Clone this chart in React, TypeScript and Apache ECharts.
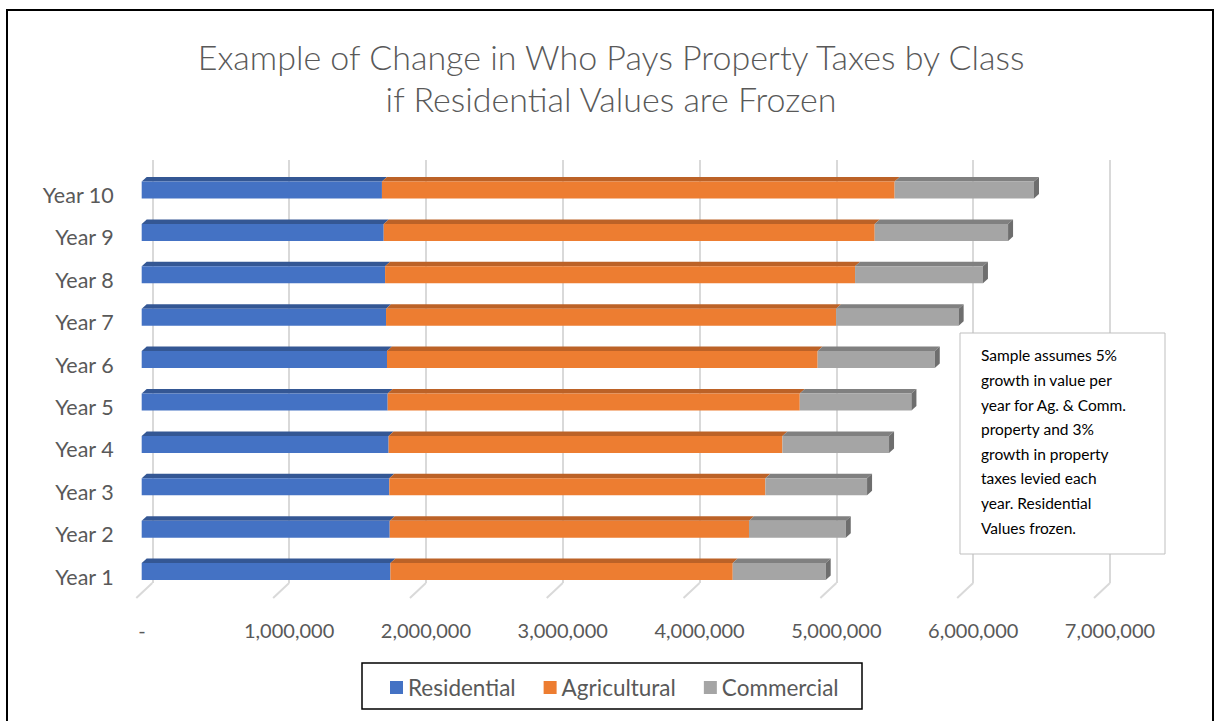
import React, { useEffect, useRef } from "react";
import * as echarts from "echarts";

const categories = ["Year 1", "Year 2", "Year 3", "Year 4", "Year 5", "Year 6", "Year 7", "Year 8", "Year 9", "Year 10"];
const residential = [1822000, 1817000, 1814000, 1809000, 1802000, 1797000, 1790000, 1783000, 1773000, 1760000];
const agricultural = [2508000, 2632000, 2755000, 2885000, 3019000, 3155000, 3297000, 3443000, 3597000, 3756000];
const commercial = [681000, 709000, 745000, 781000, 818000, 858000, 898000, 937000, 977000, 1021000];
const xTicks = [0, 1000000, 2000000, 3000000, 4000000, 5000000, 6000000, 7000000];
const seriesNames = ["Residential", "Agricultural", "Commercial"];
const titleText = "Example of Change in Who Pays Property Taxes by Class\nif Residential Values are Frozen";
const noteText =
  "Sample assumes 5%\ngrowth in value per\nyear for Ag. & Comm.\nproperty and 3%\ngrowth in property\ntaxes levied each\nyear. Residential\nValues frozen.";

const FONT = "Lato, 'Open Sans', sans-serif";

export default function App() {
  const ref = useRef<HTMLDivElement>(null);

  useEffect(() => {
    if (!ref.current) return;
    const chart = echarts.init(ref.current, undefined, { renderer: "svg" });

    const stacks = [residential, agricultural, commercial];
    const faces = [
      { front: "#4472C4", top: "#345794", side: "#2F4F88" },
      { front: "#ED7D31", top: "#BC6227", side: "#A85722" },
      { front: "#A5A5A5", top: "#808080", side: "#6E6E6E" },
    ];

    const barSeries = stacks.map((vals, si) => {
      const data = vals.map((v, i) => {
        let start = 0;
        for (let k = 0; k < si; k++) start += stacks[k][i];
        return [v, i, start];
      });
      const f = faces[si];
      const isLast = si === stacks.length - 1;
      return {
        type: "custom",
        name: seriesNames[si],
        xAxisIndex: 1,
        yAxisIndex: 1,
        itemStyle: { color: f.front },
        encode: { x: 0, y: 1 },
        data,
        z: 5 + si,
        renderItem: (params: any, api: any) => {
          const v = api.value(0);
          const cat = api.value(1);
          const start = api.value(2);
          const a = api.coord([start, cat]);
          const b = api.coord([start + v, cat]);
          const h = 17;
          const dx = 5;
          const dy = 4.5;
          const y = a[1] - 5 - h / 2;
          const children: any[] = [
            {
              type: "polygon",
              shape: { points: [[a[0], y], [a[0] + dx, y - dy], [b[0] + dx, y - dy], [b[0], y]] },
              style: { fill: f.top },
            },
            {
              type: "rect",
              shape: { x: a[0], y, width: b[0] - a[0], height: h },
              style: { fill: f.front },
            },
          ];
          if (isLast) {
            children.push({
              type: "polygon",
              shape: { points: [[b[0], y], [b[0] + dx, y - dy], [b[0] + dx, y + h - dy], [b[0], y + h]] },
              style: { fill: f.side },
            });
          }
          return { type: "group", children };
        },
      };
    });

    const floorSeries = {
      type: "custom",
      name: "floor",
      xAxisIndex: 0,
      yAxisIndex: 0,
      silent: true,
      data: xTicks.map((t) => [t, 0]),
      encode: { x: 0, y: 1 },
      z: 1,
      renderItem: (params: any, api: any) => {
        const p = api.coord([api.value(0), 0]);
        return {
          type: "line",
          shape: { x1: p[0], y1: p[1], x2: p[0] - 16, y2: p[1] + 15 },
          style: { stroke: "#d9d9d9", lineWidth: 2 },
        };
      },
    };

    chart.setOption({
      animation: false,
      backgroundColor: "#ffffff",
      legend: {
        data: seriesNames,
        left: 390,
        top: 676,
        padding: 0,
        itemGap: 28,
        itemWidth: 13,
        itemHeight: 13,
        icon: "rect",
        textStyle: { fontFamily: FONT, fontSize: 22.5, color: "#595959" },
      },
      grid: [
        { left: 152.3, top: 160, width: 957.7, height: 423 },
        { left: 141.7, top: 173.8, width: 955.5, height: 424 },
      ],
      xAxis: [
        {
          type: "value",
          gridIndex: 0,
          min: 0,
          max: 7000000,
          interval: 1000000,
          axisLine: { show: false },
          axisTick: { show: false },
          splitLine: { show: true, lineStyle: { color: "#d9d9d9", width: 2 } },
          axisLabel: {
            margin: 37,
            fontFamily: FONT,
            fontSize: 20,
            color: "#595959",
            formatter: (v: number) => (v === 0 ? "-    " : v.toLocaleString("en-US")),
          },
        },
        {
          type: "value",
          gridIndex: 1,
          min: 0,
          max: 7000000,
          show: false,
        },
      ],
      yAxis: [
        { type: "value", gridIndex: 0, min: 0, max: 1, show: false },
        {
          type: "category",
          gridIndex: 1,
          data: categories,
          axisLine: { show: false },
          axisTick: { show: false },
          splitLine: { show: false },
          axisLabel: { margin: 28, fontFamily: FONT, fontSize: 21.5, color: "#595959" },
        },
      ],
      graphic: [
        {
          type: "text",
          x: 611,
          y: 35,
          z: 100,
          style: {
            text: titleText,
            fontFamily: FONT,
            fontSize: 34,
            fontWeight: 300,
            lineHeight: 42,
            fill: "#595959",
            align: "center",
            verticalAlign: "top",
          },
        },
        {
          type: "rect",
          shape: { x: 7, y: 10, width: 1206, height: 730 },
          style: { fill: "none", stroke: "#000000", lineWidth: 2 },
          z: 100,
          silent: true,
        },
        {
          type: "rect",
          shape: { x: 362, y: 663, width: 500, height: 46 },
          style: { fill: "none", stroke: "#000000", lineWidth: 1.5 },
          z: 100,
          silent: true,
        },
        {
          type: "rect",
          shape: { x: 960, y: 333, width: 205, height: 221 },
          style: { fill: "#ffffff", stroke: "#bfbfbf", lineWidth: 1 },
          z: 100,
        },
        {
          type: "text",
          x: 981,
          y: 343,
          z: 101,
          style: {
            text: noteText,
            fontFamily: FONT,
            fontSize: 15.5,
            lineHeight: 24.6,
            fill: "#000000",
            verticalAlign: "top",
          },
        },
      ],
      series: [floorSeries, ...barSeries],
    });

    return () => chart.dispose();
  }, []);

  return (
    <div
      ref={ref}
      style={{ position: "absolute", left: 0, top: 0, width: 1217, height: 721, background: "#fff" }}
    />
  );
}
